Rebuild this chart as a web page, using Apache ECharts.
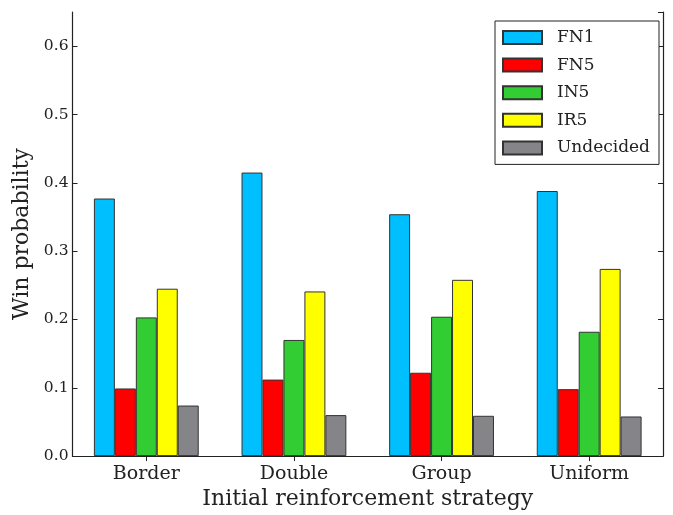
<!DOCTYPE html>
<html>
<head>
<meta charset="utf-8">
<script src="https://cdn.jsdelivr.net/npm/echarts@6/dist/echarts.min.js"></script>
<style>
  html, body { margin: 0; padding: 0; background: #fff; }
  #chart { width: 673px; height: 515px; }
</style>
</head>
<body>
<div id="chart"></div>
<script>
// Win probability by initial reinforcement strategy
const categories = ['Border', 'Double', 'Group', 'Uniform'];
const seriesNames = ['FN1', 'FN5', 'IN5', 'IR5', 'Undecided'];
const fn1 = [0.377, 0.415, 0.354, 0.388];
const fn5 = [0.099, 0.112, 0.122, 0.098];
const in5 = [0.203, 0.170, 0.204, 0.182];
const ir5 = [0.245, 0.241, 0.258, 0.274];
const undecided = [0.074, 0.060, 0.059, 0.058];
const yTicks = [0.0, 0.1, 0.2, 0.3, 0.4, 0.5, 0.6];

const seriesValues = [fn1, fn5, in5, ir5, undecided];
const colors = ['#00BFFF', '#FF0000', '#32CD32', '#FFFF00', '#858589'];
const FONT = 'DejaVu Serif';
const INK = '#222';

const chart = echarts.init(document.getElementById('chart'), null, { renderer: 'canvas' });

const tickFmt = v => yTicks.some(t => Math.abs(t - v) < 1e-9) ? v.toFixed(1) : '';

chart.setOption({
  animation: false,
  backgroundColor: '#fff',
  grid: { left: 72.5, right: 10, top: 12, bottom: 54, containLabel: false },
  legend: {
    orient: 'vertical',
    left: 495,
    top: 21,
    padding: [8, 9, 8, 7],
    itemWidth: 39,
    itemHeight: 13,
    itemGap: 10.6,
    icon: 'rect',
    borderColor: INK,
    borderWidth: 1,
    backgroundColor: '#fff',
    textStyle: { fontFamily: FONT, fontSize: 17, color: INK, padding: [0, 0, 0, 10] },
    data: seriesNames
  },
  xAxis: [
    {
      type: 'category',
      data: categories,
      position: 'bottom',
      boundaryGap: true,
      axisLine: { show: true, lineStyle: { color: INK, width: 1.2 } },
      axisTick: { show: true, inside: true, alignWithLabel: true, length: 5, lineStyle: { color: INK } },
      axisLabel: { fontFamily: FONT, fontSize: 19, color: INK, margin: 8 },
      name: 'Initial reinforcement strategy',
      nameLocation: 'middle',
      nameGap: 31,
      nameTextStyle: { fontFamily: FONT, fontSize: 22, color: INK, verticalAlign: 'top' }
    },
    {
      type: 'category',
      data: categories,
      position: 'top',
      boundaryGap: true,
      axisLine: { show: true, lineStyle: { color: INK, width: 1.2 } },
      axisTick: { show: true, inside: true, alignWithLabel: true, length: 5, lineStyle: { color: INK } },
      axisLabel: { show: false }
    }
  ],
  yAxis: [
    {
      type: 'value',
      position: 'left',
      min: 0,
      max: 0.65,
      interval: 0.1,
      splitLine: { show: false },
      axisLine: { show: true, lineStyle: { color: INK, width: 1.2 } },
      axisTick: { show: true, inside: true, length: 5, lineStyle: { color: INK } },
      axisLabel: { fontFamily: FONT, fontSize: 15.5, color: INK, margin: 4, formatter: tickFmt, showMaxLabel: false },
      name: 'Win probability',
      nameLocation: 'middle',
      nameGap: 33.5,
      nameRotate: 90,
      nameTextStyle: { fontFamily: FONT, fontSize: 22, color: INK, verticalAlign: 'bottom' }
    },
    {
      type: 'value',
      position: 'right',
      min: 0,
      max: 0.65,
      interval: 0.1,
      splitLine: { show: false },
      axisLine: { show: true, lineStyle: { color: INK, width: 1.2 } },
      axisTick: { show: true, inside: true, length: 5, lineStyle: { color: INK } },
      axisLabel: { show: false }
    }
  ],
  series: seriesNames.map((name, i) => ({
    name: name,
    type: 'bar',
    xAxisIndex: 0,
    yAxisIndex: 0,
    data: seriesValues[i],
    barGap: '0%',
    barCategoryGap: '29%',
    itemStyle: { color: colors[i], borderColor: '#333', borderWidth: 1 }
  }))
});
</script>
</body>
</html>
